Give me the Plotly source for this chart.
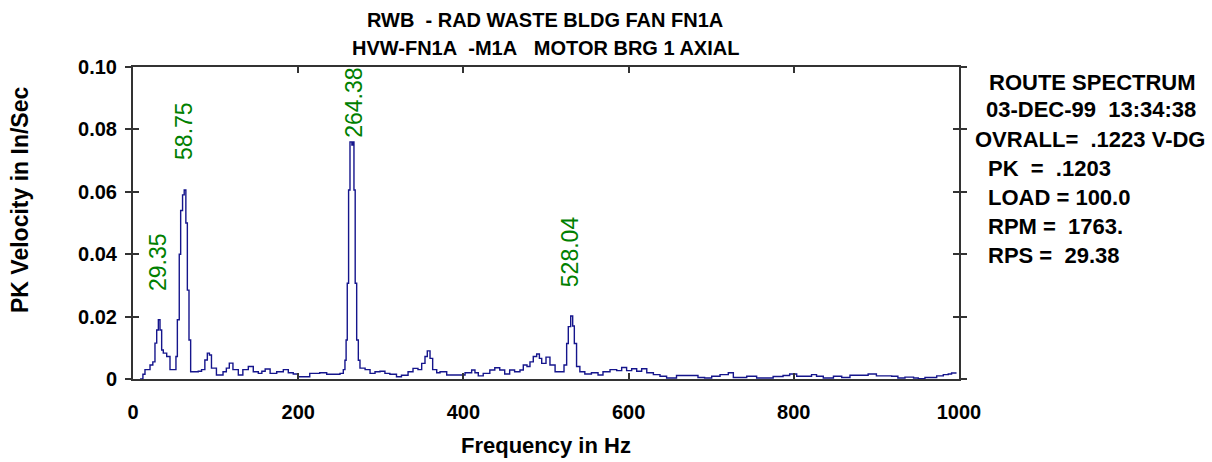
import plotly.graph_objects as go

# ---- data ----
freq_hz = [8.5, 12, 14.5, 20.6, 24, 26.6, 28.7, 30.7, 32.7, 34.7, 36.7, 40.8, 44.8, 48.8, 52, 53.7, 56, 57.7, 60, 62,
           64, 65.8, 67.8, 69.8, 74.6, 79, 83, 87, 90, 92.5, 95, 101, 109, 113, 116.6, 121, 127.5, 133, 139.6, 145.6,
           151.7, 156, 160, 166, 174, 182, 188, 194, 200, 206, 214, 226, 234.5, 242.6, 250.6, 254.6, 256.6, 258, 259.4, 261,
           262.7, 265, 266.7, 267.5, 269, 270.8, 272.8, 274.8, 281, 287, 293, 299, 305, 311, 319, 325, 333, 339, 345, 349.5,
           353.5, 356.3, 359.6, 362.8, 367.7, 371.7, 379.8, 396, 402, 410, 414, 418, 424, 432, 438, 444, 450, 456, 462, 468.5,
           472.5, 477, 480.6, 484.6, 488.7, 492, 494.8, 500, 504.8, 511, 517, 521.8, 525, 527, 529.9, 532.3, 534.3, 537, 541, 547,
           555, 563, 569, 577.5, 585.6, 591.6, 597.6, 603.7, 609.8, 615.8, 622, 630, 638, 646, 658, 670, 684, 692, 700.6, 710.7,
           720.7, 726.8, 737, 743, 755, 765, 775, 787, 795, 803.5, 821.5, 827.5, 835.7, 848, 858, 868, 890, 900, 918.5, 926,
           934.6, 945, 950.7, 958.8, 967, 973, 981, 987, 991, 997]
velocity = [0.0, 0.0015, 0.003, 0.0045, 0.0055, 0.0115, 0.0157, 0.019, 0.0157, 0.0093, 0.0083, 0.0072, 0.003, 0.003, 0.0072, 0.019, 0.040, 0.054, 0.059, 0.0606,
            0.050, 0.0285, 0.0125, 0.0023, 0.0023, 0.0025, 0.003, 0.0061, 0.0083, 0.0077, 0.0035, 0.0013, 0.0023, 0.0035, 0.0051, 0.003, 0.0013, 0.003, 0.004, 0.0023,
            0.0018, 0.0025, 0.0032, 0.0018, 0.0023, 0.003, 0.002, 0.0016, 0.0007, 0.0007, 0.0018, 0.002, 0.0015, 0.0015, 0.0018, 0.003, 0.006, 0.0125, 0.0307, 0.0606,
            0.076, 0.075, 0.076, 0.0606, 0.0307, 0.0125, 0.006, 0.0035, 0.003, 0.0018, 0.0023, 0.0025, 0.0018, 0.0015, 0.0007, 0.0012, 0.0023, 0.0034, 0.003, 0.005,
            0.0072, 0.009, 0.0066, 0.003, 0.002, 0.0023, 0.0013, 0.0013, 0.002, 0.0029, 0.002, 0.001, 0.0018, 0.0029, 0.0036, 0.0029, 0.0016, 0.0029, 0.0023, 0.0029,
            0.0045, 0.004, 0.0055, 0.0072, 0.008, 0.0066, 0.005, 0.007, 0.0045, 0.0023, 0.0023, 0.0045, 0.0114, 0.0168, 0.0202, 0.017, 0.0114, 0.004, 0.0023, 0.0016,
            0.002, 0.0013, 0.0023, 0.003, 0.0027, 0.0037, 0.0027, 0.0033, 0.0025, 0.0033, 0.002, 0.0014, 0.0009, 0.0003, 0.0011, 0.0011, 0.0005, 0.0003, 0.0009, 0.0014,
            0.002, 0.0005, 0.0005, 0.0009, 0.0003, 0.0003, 0.0008, 0.0011, 0.0016, 0.0009, 0.0014, 0.0009, 0.0003, 0.0009, 0.0005, 0.0012, 0.0016, 0.001, 0.0009, 0.0003,
            0.0006, 0.0003, 0.0001, 0.0005, 0.0005, 0.001, 0.0014, 0.0016, 0.0019, 0.0019]

peak_labels = ["29.35", "58.75", "264.38", "528.04"]
peak_label_freq = [30.3, 61.7, 267.5, 530.0]
peak_label_y = [0.0375, 0.0795, 0.0885, 0.0409]

x_tick_vals = [0, 200, 400, 600, 800, 1000]
x_tick_text = ["0", "200", "400", "600", "800", "1000"]
y_tick_vals = [0, 0.02, 0.04, 0.06, 0.08, 0.10]
y_tick_text = ["0", "0.02", "0.04", "0.06", "0.08", "0.10"]

title_lines = ["RWB\u00a0 - RAD WASTE BLDG FAN FN1A", "HVW-FN1A\u00a0 -M1A\u00a0\u00a0 MOTOR BRG 1 AXIAL"]
info_lines = ["ROUTE SPECTRUM", "03-DEC-99\u00a0 13:34:38", "OVRALL=\u00a0 .1223 V-DG", "PK\u00a0 =\u00a0 .1203",
              "LOAD = 100.0", "RPM =\u00a0 1763.", "RPS =\u00a0 29.38"]
info_x_px = [987, 984, 973, 986, 986, 986, 986]
info_y_px = [82, 110, 139, 168, 197, 226, 255]

# ---- layout geometry ----
W, H = 1212, 462
L, R, T, B = 133, 253, 67, 83
PW, PH = W - L - R, H - T - B

def px(xp):
    return (xp - L) / PW

def py(yp):
    return (H - B - yp) / PH

NARROW = "Liberation Sans Narrow, Arial Narrow, Liberation Sans, Arial, sans-serif"
REG = "Liberation Sans, Arial, sans-serif"
AXC = "#333333"

fig = go.Figure()
fig.add_trace(go.Scatter(x=freq_hz, y=velocity, mode="lines", line=dict(color="#15158c", width=1.4, shape="hv"),
                         hoverinfo="skip", showlegend=False))
fig.add_trace(go.Scatter(x=freq_hz, y=velocity, mode="lines", line=dict(color="rgba(0,0,0,0)", width=0),
                         yaxis="y2", hoverinfo="skip", showlegend=False))

ann = []
for t, xf, yv in zip(peak_labels, peak_label_freq, peak_label_y):
    ann.append(dict(x=xf, y=yv, xref="x", yref="y", text=t, textangle=-90, showarrow=False,
                    font=dict(family=REG, size=23, color="#008000"), bgcolor="white", borderpad=0))
for i, t in enumerate(title_lines):
    ann.append(dict(x=px(545), y=py([20, 48][i]), xref="paper", yref="paper", text="<b>%s</b>" % t, showarrow=False,
                    xanchor="center", yanchor="middle", font=dict(family=NARROW, size=20, color="black")))
for t, xp, yp in zip(info_lines, info_x_px, info_y_px):
    ann.append(dict(x=px(xp), y=py(yp), xref="paper", yref="paper", text="<b>%s</b>" % t, showarrow=False,
                    xanchor="left", yanchor="middle", font=dict(family=REG, size=22, color="black")))
ann.append(dict(x=px(546), y=py(445), xref="paper", yref="paper", text="<b>Frequency in Hz</b>", showarrow=False,
                xanchor="center", yanchor="middle", font=dict(family=NARROW, size=22, color="black")))
ann.append(dict(x=px(20), y=py(200), xref="paper", yref="paper", text="<b>PK Velocity in In/Sec</b>", showarrow=False,
                textangle=-90, xanchor="center", yanchor="middle", font=dict(family=REG, size=23, color="black")))

fig.update_layout(
    width=W, height=H, margin=dict(l=L, r=R, t=T, b=B),
    paper_bgcolor="white", plot_bgcolor="white", showlegend=False,
    xaxis=dict(range=[0, 1000], tickvals=x_tick_vals, ticktext=["<b>%s</b>" % s for s in x_tick_text],
               ticks="inside", ticklen=6, tickcolor=AXC, tickwidth=1.5,
               showline=True, linecolor=AXC, linewidth=2, mirror="ticks", showgrid=False, zeroline=False,
               ticklabelstandoff=14, tickfont=dict(family=NARROW, size=20, color="black")),
    yaxis=dict(range=[0, 0.1], tickvals=y_tick_vals, ticktext=["<b>%s</b>" % s for s in y_tick_text], ticks="outside",
               ticklen=6, tickcolor=AXC, tickwidth=1.5, showline=True, linecolor=AXC, linewidth=2, mirror="ticks",
               showgrid=False, zeroline=False, ticklabelstandoff=4, tickfont=dict(family=NARROW, size=20, color="black")),
    yaxis2=dict(range=[0, 0.1], tickvals=y_tick_vals, overlaying="y", side="left", ticks="inside", ticklen=6,
                tickcolor=AXC, tickwidth=1.5, mirror="ticks", showline=False, showgrid=False, zeroline=False,
                showticklabels=False),
    annotations=ann,
)

fig.write_html("out.html")
